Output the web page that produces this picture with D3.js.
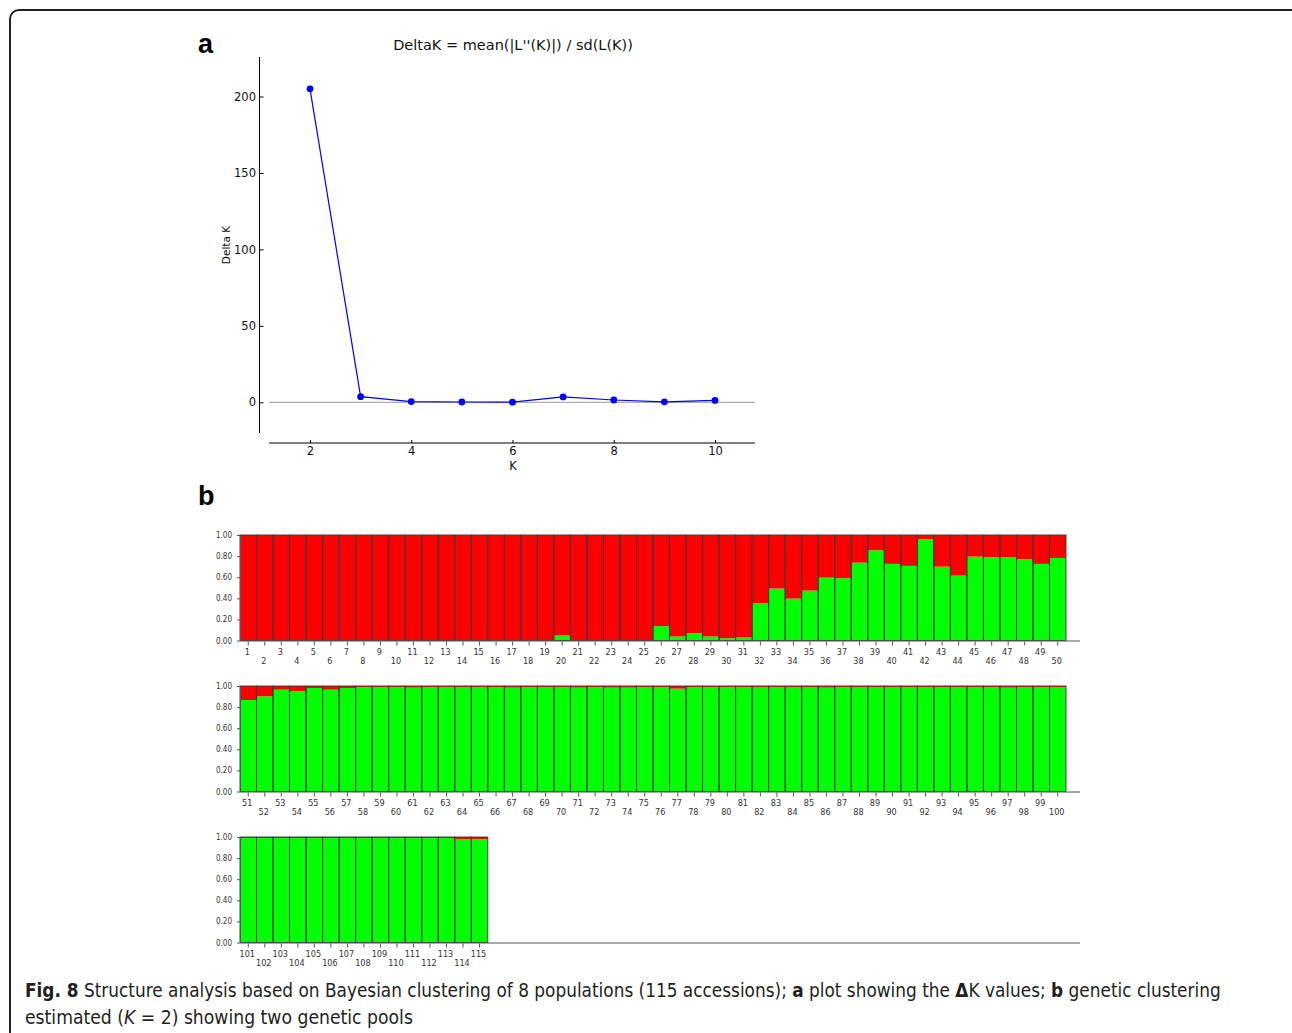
<!DOCTYPE html>
<html><head><meta charset="utf-8">
<script src="https://cdn.jsdelivr.net/npm/d3@7"></script>
<style>
html,body{margin:0;padding:0;background:#fff;}
svg{display:block;}
</style></head>
<body>
<svg id="chart" width="1292" height="1033"></svg>
<script>
// ---------- DATA ----------
const kValues = [2, 3, 4, 5, 6, 7, 8, 9, 10];
const deltaK = [205, 3.7, 0.5, 0.2, 0.1, 3.5, 1.5, 0.3, 1.2];
const deltaTicks = [0, 50, 100, 150, 200];
const kTicks = [2, 4, 6, 8, 10];

const accessions = [1,2,3,4,5,6,7,8,9,10,11,12,13,14,15,16,17,18,19,20,21,22,23,24,25,26,27,28,29,30,31,32,33,34,35,36,37,38,39,40,41,42,43,44,45,46,47,48,49,50,
51,52,53,54,55,56,57,58,59,60,61,62,63,64,65,66,67,68,69,70,71,72,73,74,75,76,77,78,79,80,81,82,83,84,85,86,87,88,89,90,91,92,93,94,95,96,97,98,99,100,
101,102,103,104,105,106,107,108,109,110,111,112,113,114,115];
// membership coefficient of cluster 2 (green); cluster 1 (red) is the remainder
const clusterGreen = [
0,0,0,0.004,0,0,0,0.004,0,0,0,0,0.004,0.004,0,0.004,0.004,0.004,0.004,0.047,0,0,0,0,0,
0.136,0.038,0.069,0.038,0.022,0.028,0.353,0.492,0.397,0.473,0.596,0.59,0.738,0.855,0.726,0.707,0.962,0.70,0.615,0.795,0.789,0.789,0.77,0.726,0.782,
0.867,0.902,0.965,0.953,0.981,0.965,0.981,0.99,0.99,0.99,0.985,0.99,0.99,0.99,0.99,0.99,0.985,0.99,0.99,0.99,0.985,0.99,0.985,0.985,0.99,
0.99,0.975,0.99,0.99,0.99,0.99,0.99,0.99,0.99,0.99,0.985,0.99,0.99,0.99,0.99,0.99,0.99,0.99,0.99,0.99,0.99,0.985,0.99,0.99,0.99,
0.99,0.99,0.99,0.99,0.99,0.99,0.99,0.99,0.99,0.99,0.99,0.99,0.99,0.98,0.98];
const qTicks = [0, 0.2, 0.4, 0.6, 0.8, 1.0];
const rowSize = 50;

// ---------- SVG ----------
const svg = d3.select("#chart");

// frame
svg.append("rect").attr("x", 10).attr("y", 10).attr("width", 1300).attr("height", 1100)
  .attr("rx", 9).attr("ry", 9).attr("fill", "none").attr("stroke", "#222").attr("stroke-width", 2);

// ---------- PANEL A ----------
const fA = "DejaVu Sans, sans-serif";
const x = d3.scaleLinear().domain([2, 10]).range([310, 715]);
const y = d3.scaleLinear().domain([0, 200]).range([402.3, 96.5]);
const xMin = x.invert(269), xMax = x.invert(755);
const yMin = y.invert(433), yMax = y.invert(57);

svg.append("text").attr("x", 198).attr("y", 53).text("a")
  .attr("font-family", "Liberation Sans, Arial, sans-serif").attr("font-weight", "bold").attr("font-size", 27);
svg.append("text").attr("x", 513).attr("y", 50).attr("text-anchor", "middle")
  .attr("font-family", fA).attr("font-size", 14.5).attr("fill", "#111")
  .text("DeltaK = mean(|L''(K)|) / sd(L(K))");

// y axis (inward ticks)
const yAxis = d3.axisLeft(y).tickValues(deltaTicks).tickSize(-4).tickPadding(3.5).tickSizeOuter(0);
const gy = svg.append("g").attr("transform", "translate(259.5,0)").call(yAxis);
gy.select(".domain").attr("d", `M0,${y(yMax)}V${y(yMin)}`).attr("stroke", "#000");
gy.selectAll(".tick line").attr("stroke", "#000");
gy.selectAll("text").attr("font-family", fA).attr("font-size", 11.5).attr("fill", "#111");
svg.append("text").attr("transform", "translate(230,245) rotate(-90)").attr("text-anchor", "middle")
  .attr("font-family", fA).attr("font-size", 10.5).attr("fill", "#111").text("Delta K");

// x axis
const xAxis = d3.axisBottom(x).tickValues(kTicks).tickSize(0).tickPadding(4).tickSizeOuter(0);
const gx = svg.append("g").attr("transform", "translate(0,443)").call(xAxis);
gx.select(".domain").attr("d", `M${x(xMin)},0H${x(xMax)}`).attr("stroke", "#000").attr("stroke-width", 1.2);
gx.selectAll(".tick line").attr("y2", -3).attr("stroke", "#000");
gx.selectAll("text").attr("font-family", fA).attr("font-size", 11.5).attr("fill", "#111");
svg.append("text").attr("x", 513).attr("y", 470).attr("text-anchor", "middle")
  .attr("font-family", fA).attr("font-size", 11.5).attr("fill", "#111").text("K");

// zero line
svg.append("line").attr("x1", x(xMin)).attr("x2", x(xMax)).attr("y1", y(0)).attr("y2", y(0))
  .attr("stroke", "#999").attr("stroke-width", 1);

// line + points
const pts = kValues.map((k, i) => [k, deltaK[i]]);
svg.append("path").datum(pts)
  .attr("d", d3.line().x(d => x(d[0])).y(d => y(d[1])))
  .attr("fill", "none").attr("stroke", "#0000ff").attr("stroke-width", 1.2);
svg.selectAll("circle.pt").data(pts).enter().append("circle").attr("class", "pt")
  .attr("cx", d => x(d[0])).attr("cy", d => y(d[1])).attr("r", 3.4).attr("fill", "#0000ff");

// ---------- PANEL B ----------
svg.append("text").attr("x", 198).attr("y", 505).text("b")
  .attr("font-family", "Liberation Sans, Arial, sans-serif").attr("font-weight", "bold").attr("font-size", 27);

const fB = "'Liberation Sans Narrow', 'DejaVu Sans Condensed', Arial, sans-serif";
const rowTops = [535, 686, 837];
const rowH = 105.5;
const barW = 826 / rowSize;
const data = accessions.map((id, i) => ({id, g: clusterGreen[i], row: Math.floor(i / rowSize), pos: i % rowSize}));

rowTops.forEach((top, r) => {
  const rows = data.filter(d => d.row === r);
  const xb = d3.scaleBand().domain(d3.range(rowSize)).range([240, 240 + barW * rowSize]).padding(0);
  const yq = d3.scaleLinear().domain([0, 1]).range([top + rowH, top]);
  const g = svg.append("g");

  g.selectAll("rect.gr").data(rows).enter().append("rect")
    .attr("x", d => xb(d.pos)).attr("width", xb.bandwidth())
    .attr("y", d => yq(d.g)).attr("height", d => yq(0) - yq(d.g)).attr("fill", "#00ff00");
  g.selectAll("rect.rd").data(rows).enter().append("rect")
    .attr("x", d => xb(d.pos)).attr("width", xb.bandwidth())
    .attr("y", yq(1)).attr("height", d => yq(d.g) - yq(1)).attr("fill", "#ff0000");
  g.selectAll("rect.ol").data(rows).enter().append("rect")
    .attr("x", d => xb(d.pos)).attr("width", xb.bandwidth())
    .attr("y", yq(1)).attr("height", yq(0) - yq(1))
    .attr("fill", "none").attr("stroke", "#3a3a3a").attr("stroke-width", 0.9);

  const ay = d3.axisLeft(yq).tickValues(qTicks).tickSize(3).tickSizeOuter(0).tickFormat(d3.format(".2f"));
  const gay = svg.append("g").attr("transform", "translate(240,0)").call(ay);
  gay.select(".domain").attr("stroke", "#555");
  gay.selectAll(".tick line").attr("stroke", "#555");
  gay.selectAll("text").attr("font-family", fB).attr("font-size", 8).attr("fill", "#333").attr("dx", -2);

  svg.append("line").attr("x1", 240).attr("x2", 1080).attr("y1", yq(0) + 0.5).attr("y2", yq(0) + 0.5)
    .attr("stroke", "#555").attr("stroke-width", 1);
  const gt = svg.append("g");
  gt.selectAll("line").data(rows).enter().append("line")
    .attr("x1", d => xb(d.pos) + xb.bandwidth() / 2).attr("x2", d => xb(d.pos) + xb.bandwidth() / 2)
    .attr("y1", yq(0) + 1).attr("y2", yq(0) + 5).attr("stroke", "#555");
  gt.selectAll("text").data(rows).enter().append("text")
    .attr("x", d => xb(d.pos) + xb.bandwidth() / 2 - 1)
    .attr("y", d => yq(0) + (d.pos % 2 === 0 ? 14 : 23.5))
    .attr("text-anchor", "middle")
    .attr("font-family", fB).attr("font-size", 9).attr("fill", "#333")
    .text(d => d.id);
});

// ---------- CAPTION ----------
const fC = "'DejaVu Sans', sans-serif";
function fitLine(parts, xPos, yPos, targetWidth) {
  const t = svg.append("text").attr("font-family", fC).attr("font-size", 19)
    .attr("font-stretch", "condensed").attr("fill", "#231f20");
  parts.forEach(p => {
    const s = t.append("tspan").text(p.t);
    if (p.b) s.attr("font-weight", "bold");
    if (p.i) s.attr("font-style", "italic");
  });
  const w = t.node().getComputedTextLength();
  const sx = targetWidth / w;
  t.attr("transform", `translate(${xPos},${yPos}) scale(${sx},1)`);
}
fitLine([
  {t: "Fig. 8", b: true},
  {t: " Structure analysis based on Bayesian clustering of 8 populations (115 accessions); "},
  {t: "a", b: true},
  {t: " plot showing the "},
  {t: "Δ", b: true},
  {t: "K values; "},
  {t: "b", b: true},
  {t: " genetic clustering"}
], 25, 997, 1196);
fitLine([
  {t: "estimated ("},
  {t: "K", i: true},
  {t: " = 2) showing two genetic pools"}
], 25, 1024, 388);
</script>
</body></html>
